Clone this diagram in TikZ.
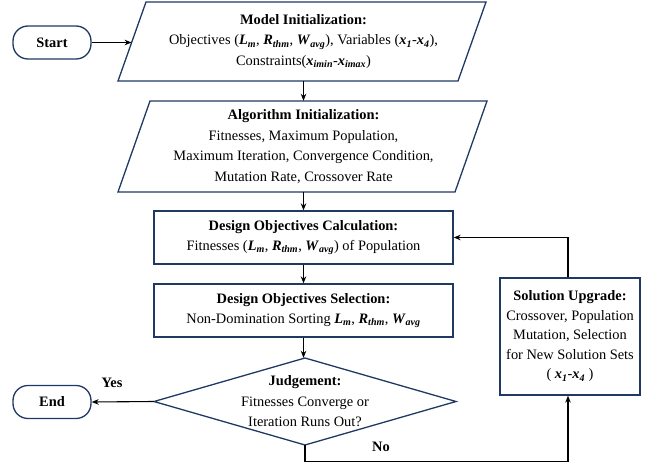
\documentclass[tikz,border=0pt]{standalone}
\usepackage{fontspec}
\setmainfont{Liberation Serif}
\usetikzlibrary{arrows.meta}
\definecolor{navy}{HTML}{1F3864}
\newcommand\bivar[2]{\textbf{\textit{#1}}\textsubscript{\textbf{\textit{#2}}}}
\begin{document}
\begin{tikzpicture}[x=1pt,y=-1pt,
  txt/.style={align=center, inner sep=0pt, text=black, font=\fontsize{14.4}{20.5}\selectfont},
  shapeline/.style={draw=navy, line width=1.3pt},
  box/.style={txt, shapeline},
  term/.style={box, rounded corners=15pt, minimum width=78pt, minimum height=33pt},
  arr/.style={-{Stealth[length=7pt,width=5.5pt]}, line width=1.1pt},
  lbl/.style={inner sep=0pt, font=\fontsize{14.4}{17}\selectfont\bfseries}]
\useasboundingbox (0,0) rectangle (645,465);
% terminals
\node[term] (start) at (52,42.5) {\textbf{Start}};
\node[term] (end) at (52,402) {\textbf{End}};
% parallelogram 1
\draw[shapeline] (146,2) -- (486,2) -- (458,81) -- (118,81) -- cycle;
\node[txt, minimum width=300pt, minimum height=79pt] (p1) at (303.5,41.5)
  {\textbf{Model Initialization:}\\
   Objectives (\bivar{L}{m}, \bivar{R}{thm}, \bivar{W}{avg}), Variables (\bivar{x}{1}-\bivar{x}{4}),\\
   Constraints(\bivar{x}{imin}-\bivar{x}{imax})};
\coordinate (p1in) at (131.6,42.5);
% parallelogram 2
\draw[shapeline] (150,101) -- (487,101) -- (455,192) -- (118,192) -- cycle;
\node[txt, minimum width=300pt, minimum height=91pt] (p2) at (303.5,146.5)
  {\textbf{Algorithm Initialization:}\\
   Fitnesses, Maximum Population,\\
   Maximum Iteration, Convergence Condition,\\
   Mutation Rate, Crossover Rate};
% rectangles
\node[box, minimum width=299pt, minimum height=53pt] (calc) at (303.5,237.5)
  {\textbf{Design Objectives Calculation:}\\
   Fitnesses (\bivar{L}{m}, \bivar{R}{thm}, \bivar{W}{avg}) of Population};
\node[box, minimum width=299pt, minimum height=53pt] (sel) at (303.5,310.5)
  {\textbf{Design Objectives Selection:}\\
   Non-Domination Sorting \bivar{L}{m}, \bivar{R}{thm}, \bivar{W}{avg}};
% diamond
\draw[shapeline] (305,358) -- (456,401.5) -- (305,445) -- (154,401.5) -- cycle;
\node[txt, minimum width=302pt, minimum height=87pt] (dia) at (305,401.5)
  {\textbf{Judgement:}\\
   Fitnesses Converge or\\
   Iteration Runs Out?};
% solution box
\node[box, minimum width=140pt, minimum height=117pt, font=\fontsize{14.4}{19.5}\selectfont] (sol) at (570,336.5)
  {\textbf{Solution Upgrade:}\\
   Crossover, Population\\
   Mutation, Selection\\
   for New Solution Sets\\
   ( \bivar{x}{1}-\bivar{x}{4} )};
\coordinate (kx) at (568,0);
% connectors
\draw[arr] (start.east) -- (p1in);
\draw[arr] (p1.south) -- (p2.north);
\draw[arr] (p2.south) -- (calc.north);
\draw[arr] (calc.south) -- (sel.north);
\draw[arr] (sel.south) -- (sel.south |- dia.north);
\draw[arr] (dia.west) -- (end.east);
\draw[arr] (dia.south) -- ++(0,16) -| (kx |- sol.south);
\draw[arr] (kx |- sol.north) |- (calc.east);
% labels
\node[lbl] (yes) at (112,383) {Yes};
\node[lbl] (no) at (381,447) {No};
\end{tikzpicture}
\end{document}
